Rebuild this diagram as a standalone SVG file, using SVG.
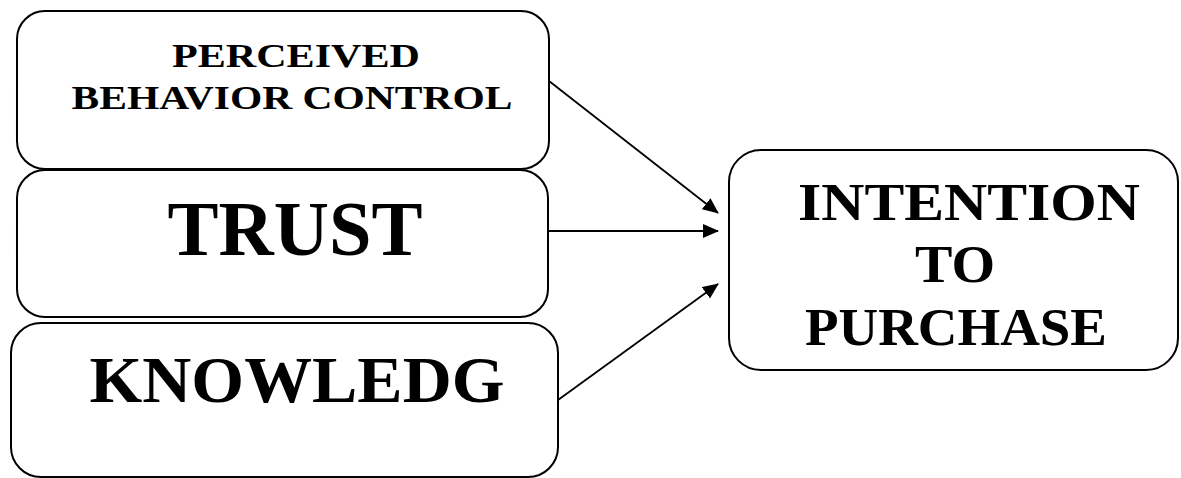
<svg xmlns="http://www.w3.org/2000/svg" width="1181" height="478" viewBox="0 0 1181 478">
<style>
.box{fill:#fff;stroke:#000;stroke-width:2}
.t{font-family:"Liberation Serif","Times New Roman",serif;font-weight:bold;fill:#000;text-anchor:middle}
.c{stroke:#000;stroke-width:1.8;fill:none}
</style>
<defs>
<marker id="ah" markerUnits="userSpaceOnUse" markerWidth="16" markerHeight="14" refX="15" refY="7" orient="auto">
<path d="M0,0 L16,7 L0,14 Z" fill="#000"/>
</marker>
</defs>
<rect width="1181" height="478" fill="#fff"/>
<g id="pbc">
<rect class="box" x="17" y="11" width="532" height="158" rx="28"/>
<text class="t" x="296" y="67" font-size="34" textLength="248" lengthAdjust="spacingAndGlyphs">PERCEIVED</text>
<text class="t" x="292" y="109" font-size="34" textLength="441" lengthAdjust="spacingAndGlyphs">BEHAVIOR CONTROL</text>
</g>
<g id="trust">
<rect class="box" x="17" y="170" width="531" height="147" rx="28"/>
<text class="t" x="295" y="255" font-size="78" textLength="255" lengthAdjust="spacingAndGlyphs">TRUST</text>
</g>
<g id="knowledge">
<rect class="box" x="11" y="323" width="547" height="154" rx="30"/>
<text class="t" x="297" y="402" font-size="66" textLength="415" lengthAdjust="spacingAndGlyphs">KNOWLEDG</text>
</g>
<g id="intention">
<rect class="box" x="729" y="150" width="449" height="220" rx="32"/>
<text class="t" x="969" y="220" font-size="53" textLength="342" lengthAdjust="spacingAndGlyphs">INTENTION</text>
<text class="t" x="955" y="282" font-size="53" textLength="80" lengthAdjust="spacingAndGlyphs">TO</text>
<text class="t" x="956" y="345" font-size="53" textLength="302" lengthAdjust="spacingAndGlyphs">PURCHASE</text>
</g>
<g id="connectors">
<line class="c" x1="549" y1="81" x2="718" y2="213" marker-end="url(#ah)"/>
<line class="c" x1="548" y1="231" x2="718" y2="231" marker-end="url(#ah)"/>
<line class="c" x1="558" y1="400" x2="718" y2="284" marker-end="url(#ah)"/>
</g>
</svg>
